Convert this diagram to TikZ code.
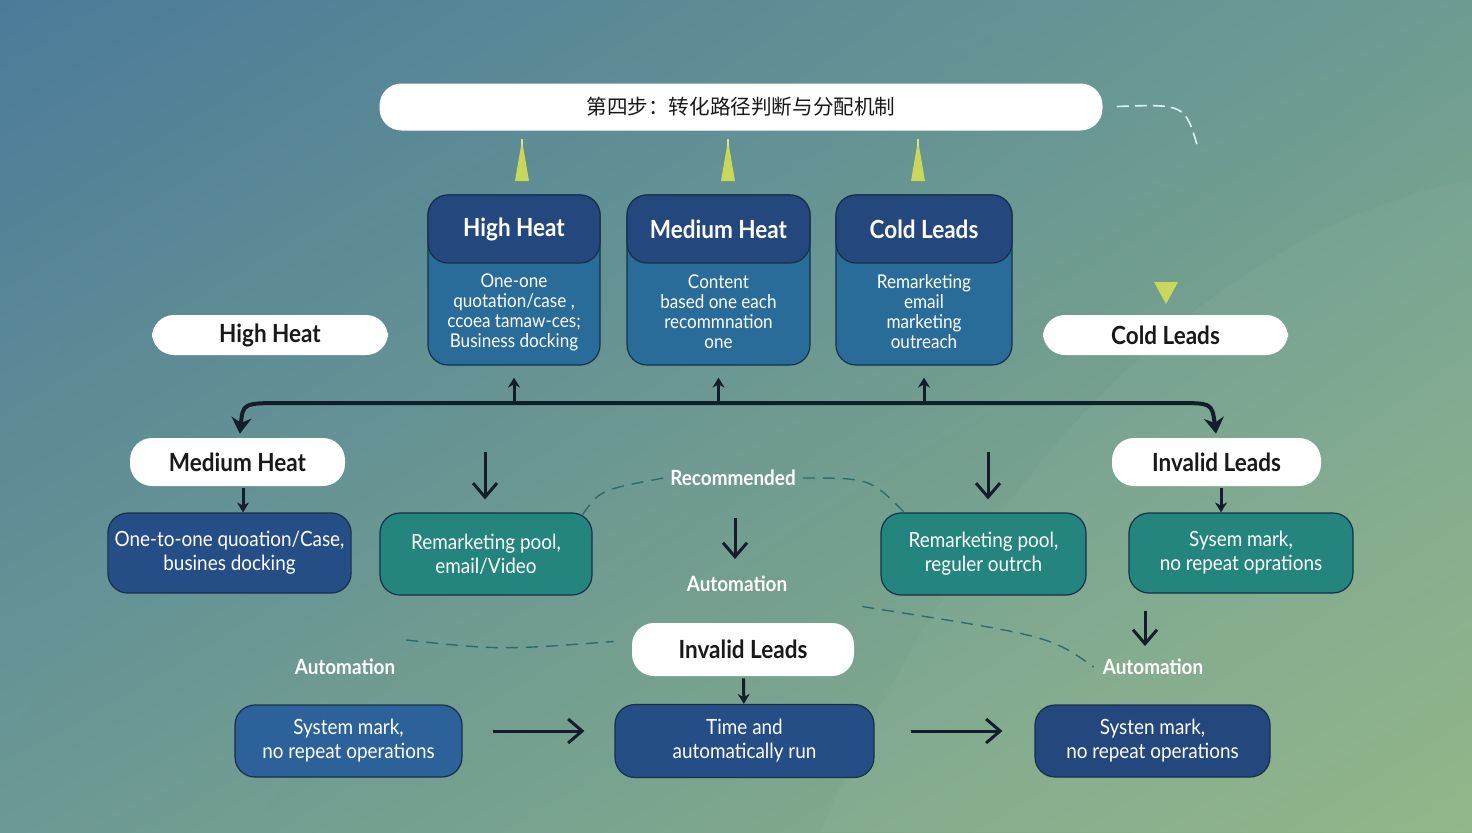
\documentclass[tikz,border=0pt]{standalone}
\usepackage{fontspec}
\setmainfont{Lato}[FakeStretch=0.9]
\newfontfamily\cjk{Noto Sans CJK SC}
\usetikzlibrary{arrows.meta, shadings}

\definecolor{bgTL}{HTML}{4B7B99}
\definecolor{bgTR}{HTML}{6E9C93}
\definecolor{bgBL}{HTML}{6C9994}
\definecolor{bgBR}{HTML}{8FB585}
\definecolor{headBlue}{HTML}{24487E}
\definecolor{bodyBlue}{HTML}{2A6C99}
\definecolor{deepBlue}{HTML}{254E86}
\definecolor{midBlue}{HTML}{2C6199}
\definecolor{tealBox}{HTML}{23857E}
\definecolor{edgeNavy}{HTML}{16304A}
\definecolor{inkDark}{HTML}{141E2A}
\definecolor{spikeGreen}{HTML}{C9D75A}
\definecolor{dashTeal}{HTML}{2E6B6C}

\tikzset{
  pill/.style={fill=white, rounded corners=11pt, text=black!90, inner sep=0pt,
    font=\bfseries\fontsize{12.5}{14}\selectfont},
  headbox/.style={draw=edgeNavy, line width=0.6pt, fill=headBlue, rounded corners=10pt,
    minimum height=34pt, text=white, font=\bfseries\fontsize{12.5}{14}\selectfont},
  topbox/.style={draw=edgeNavy, line width=0.6pt, fill=bodyBlue, rounded corners=10pt,
    minimum height=85pt},
  bodytext/.style={text=white, align=center, font=\fontsize{9.5}{10}\selectfont},
  flowbox/.style={draw=edgeNavy, line width=0.6pt, rounded corners=10pt, text=white,
    align=center, font=\fontsize{10.5}{12}\selectfont},
  note/.style={text=white, font=\bfseries\fontsize{10.5}{12}\selectfont},
  arr/.style={draw=inkDark, line width=1.5pt, -{Straight Barb[length=7pt,width=12pt]}},
  tip/.style={draw=inkDark, line width=1.5pt, -{Stealth[length=5pt,width=6pt]}},
  dashline/.style={draw=dashTeal, line width=0.7pt, dash pattern=on 6pt off 4pt},
}

\begin{document}
\begin{tikzpicture}[x=0.5pt,y=-0.5pt]
% background
\shade[upper left=bgTL, upper right=bgTR, lower left=bgBL, lower right=bgBR]
  (0,0) rectangle (1472,832);
\fill[white, opacity=0.035] (1472,180) .. controls (1250,220) and (1000,420) .. (820,832)
  -- (1472,832) -- cycle;
\useasboundingbox (0,0) rectangle (1472,832);

% title
\node[pill, minimum width=361.5pt, minimum height=23.5pt,
  font=\cjk\fontsize{10.3}{12}\selectfont] (title) at (741,107) {第四步：转化路径判断与分配机制};
\coordinate (titleTail) at (1198,148);
\draw[white!85!cyan, line width=0.8pt, dash pattern=on 6pt off 3pt, shorten <=7pt]
  (title.east) .. controls (1185,104) .. (titleTail);

% top boxes
\node[topbox, minimum width=86pt] (hhBox) at (514,280) {};
\node[headbox, minimum width=86pt] (hhHead) at (514,229) {High Heat};
\node[bodytext] (hhText) at (514,312) {One-one\\quotation/case ,\\ccoea tamaw-ces;\\Business docking};

\node[topbox, minimum width=91.5pt] (mhBox) at (718.5,280) {};
\node[headbox, minimum width=91.5pt] (mhHead) at (718.5,229) {Medium Heat};
\node[bodytext] (mhText) at (718.5,312) {Content\\based one each\\recommnation\\one};

\node[topbox, minimum width=88pt] (clBox) at (924,280) {};
\node[headbox, minimum width=88pt] (clHead) at (924,229) {Cold Leads};
\node[bodytext] (clText) at (924,312) {Remarketing\\email\\marketing\\outreach};

% spikes under the title
\foreach \sx in {522,728,918}{
  \fill[spikeGreen] (\sx-7,181) -- (\sx+7,181) -- (\sx+1,146) -- (\sx-1,146) -- cycle;
  \draw[spikeGreen!70!white, line width=0.8pt] (\sx,146) -- (\sx,139);
}

% side pills
\node[pill, minimum width=118pt, minimum height=20pt] (hhPill) at (270,335) {High Heat};
\node[pill, minimum width=122.5pt, minimum height=20pt] (clPill) at (1165.5,335) {Cold Leads};
\fill[spikeGreen] (1154,282) -- (1178,282) -- (1166,304) -- cycle;

\node[pill, minimum width=107.5pt, minimum height=24pt] (mhPill) at (237.5,462) {Medium Heat};
\node[pill, minimum width=104.5pt, minimum height=24pt] (ilPillR) at (1216.5,462) {Invalid Leads};

% branch line
\coordinate (brL) at (285,403);
\coordinate (brR) at (1175,403);
\draw[draw=inkDark, line width=2pt, {Stealth[length=8pt,width=10pt]}-{Stealth[length=8pt,width=10pt]},
  shorten <=2pt, shorten >=2pt]
  ([xshift=1pt]mhPill.north) .. controls (243,403) .. (brL) -- (brR)
  .. controls (1212,403) .. (ilPillR.north);
\foreach \bx in {hhBox,mhBox,clBox}
  \draw[tip, shorten >=6pt] (\bx.south |- brL) -- (\bx.south);

% middle row
\node[flowbox, fill=deepBlue, minimum width=121.5pt, minimum height=40pt] (quoteBox) at (229.5,553)
  {One-to-one quoation/Case,\\busines docking};
\node[flowbox, fill=tealBox, minimum width=106pt, minimum height=41pt] (poolA) at (486,554)
  {Remarketing pool,\\email/Video};
\node[flowbox, fill=tealBox, minimum width=102.5pt, minimum height=41pt] (poolB) at (983.5,554)
  {Remarketing pool,\\reguler outrch};
\node[flowbox, fill=tealBox, minimum width=112pt, minimum height=40pt] (markA) at (1241,553)
  {Sysem mark,\\no repeat oprations};

\draw[tip, shorten <=1pt] (mhPill.south -| 243,0) -- (quoteBox.north -| 243,0);
\draw[tip, shorten <=1pt] (ilPillR.south -| 1221,0) -- (markA.north -| 1221,0);

\coordinate (poolAIn) at (485,452);
\coordinate (poolBIn) at (988,452);
\draw[arr, shorten >=6.5pt] (poolAIn) -- (poolA.north -| poolAIn);
\draw[arr, shorten >=6.5pt] (poolBIn) -- (poolB.north -| poolBIn);

\node[note] (recText) at (733,478) {Recommended};
\draw[dashline] ([xshift=-5pt,yshift=-1pt]poolA.north east) .. controls (600,490) .. (recText.west);
\draw[dashline] (recText.east) .. controls (870,478) .. ([xshift=12pt]poolB.north west);

\node[note] (autoMid) at (737,584) {Automation};
\coordinate (autoMidIn) at (735,518);
\draw[arr, shorten >=5pt] (autoMidIn) -- (autoMid.north -| autoMidIn);

% lower row
\node[pill, minimum width=111pt, minimum height=26.5pt] (ilPillC) at (743,649.5) {Invalid Leads};
\node[note] (autoL) at (345,667) {Automation};
\node[note] (autoR) at (1153,667) {Automation};

\draw[dashline] ([xshift=2pt,yshift=6pt]autoL.north east) .. controls (500,650) .. ([xshift=-9pt,yshift=4pt]ilPillC.west);
\draw[dashline] ([xshift=4pt,yshift=8pt]ilPillC.north east) .. controls (1050,636) .. ([xshift=-1pt]autoR.west);

\draw[arr, shorten <=8.5pt, shorten >=3pt] (markA.south -| 1145,0) -- (autoR.north -| 1145,0);

\node[flowbox, fill=midBlue, minimum width=113.5pt, minimum height=36pt] (sysA) at (348.5,741)
  {System mark,\\no repeat operations};
\node[flowbox, fill=deepBlue, minimum width=129.5pt, minimum height=36.5pt] (timeRun) at (744.5,741)
  {Time and\\automatically run};
\node[flowbox, fill=headBlue, minimum width=117.5pt, minimum height=36pt] (sysB) at (1152.5,741)
  {Systen mark,\\no repeat operations};

\draw[tip, shorten <=1pt] (ilPillC) -- (timeRun);
\draw[arr, shorten <=15pt, shorten >=15pt] ([yshift=5pt]sysA.east) -- ([yshift=5pt]timeRun.west);
\draw[arr, shorten <=18pt, shorten >=16pt] ([yshift=5pt]timeRun.east) -- ([yshift=5pt]sysB.west);
\end{tikzpicture}
\end{document}
